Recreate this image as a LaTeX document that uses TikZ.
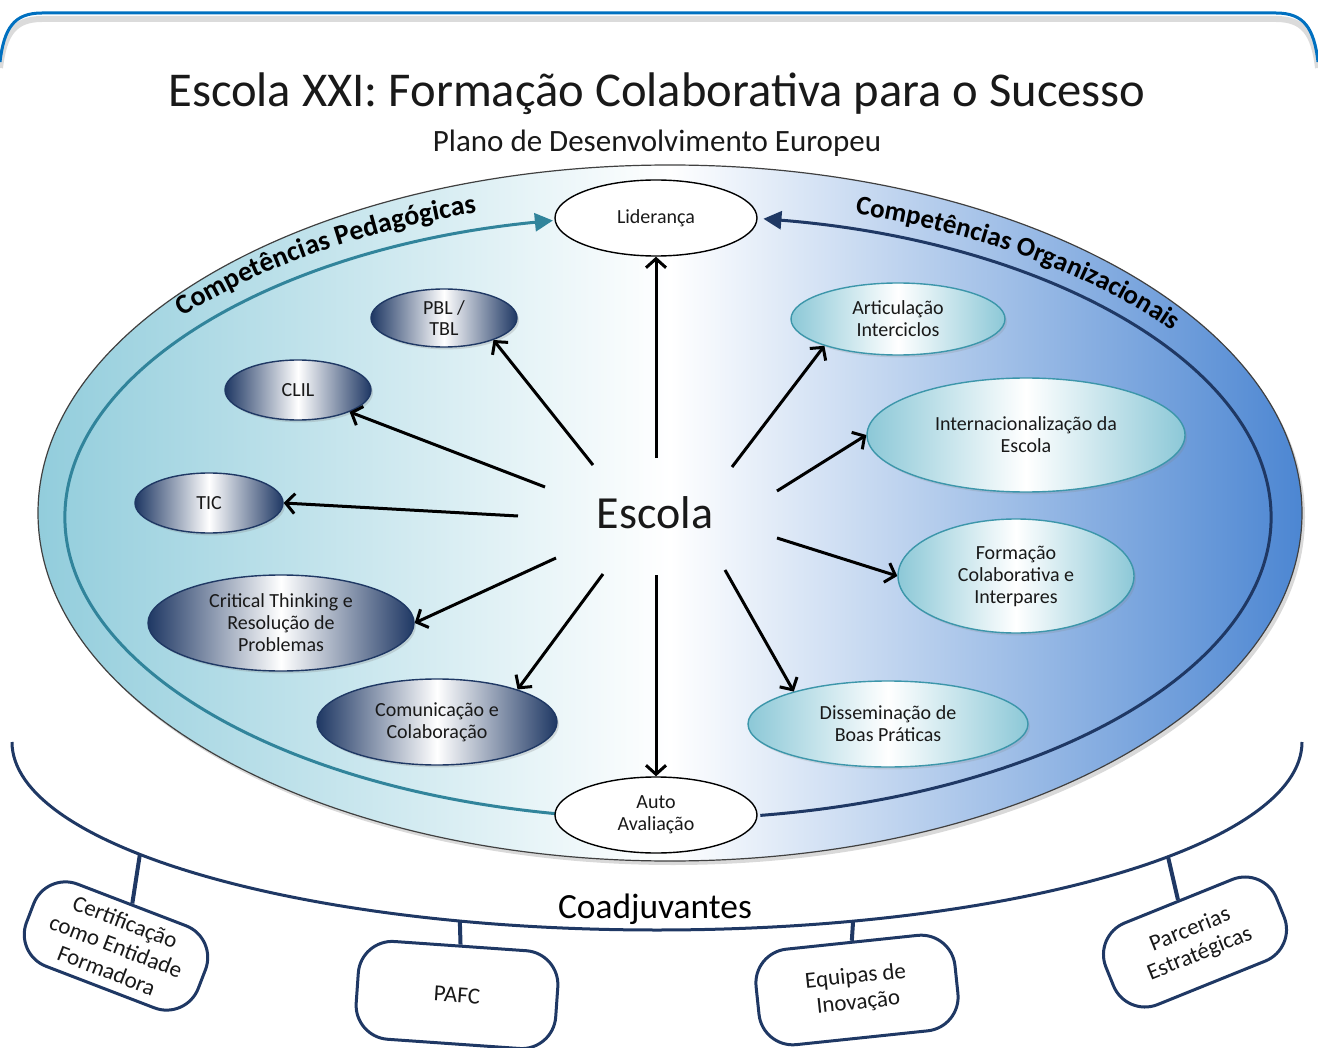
\documentclass[tikz,border=0pt]{standalone}
\usepackage{fontspec}
\setmainfont{Carlito}
\usetikzlibrary{arrows.meta,shapes.geometric,shadows,decorations.text}
\definecolor{navy}{RGB}{31,56,100}
\definecolor{tealline}{RGB}{49,132,155}
\definecolor{bandleft}{RGB}{146,205,220}
\definecolor{bandright}{RGB}{76,134,210}
\definecolor{frameblue}{RGB}{0,112,192}
\definecolor{tealfill}{RGB}{140,200,215}
\definecolor{tealborder}{RGB}{60,150,170}
\definecolor{navyfill}{RGB}{31,56,100}
\begin{document}
\begin{tikzpicture}[x=0.5pt,y=-0.5pt,
  every node/.style={inner sep=0pt, align=center, text=black!90},
  hub/.style={ellipse, draw=black, line width=0.7pt, fill=white, minimum width=101pt, minimum height=38pt, font=\fontsize{10}{11}\selectfont},
  ped/.style={ellipse, draw=navy, line width=0.7pt, left color=navyfill, right color=navyfill, middle color=white, font=\fontsize{10}{11}\selectfont, drop shadow={opacity=0.25,shadow xshift=1pt,shadow yshift=-1.2pt}},
  org/.style={ellipse, draw=tealborder, line width=0.7pt, left color=tealfill, right color=tealfill, middle color=white, font=\fontsize{10}{11}\selectfont, drop shadow={opacity=0.2,shadow xshift=1pt,shadow yshift=-1.2pt}},
  arr/.style={line width=1.5pt, -{Straight Barb[length=4.5pt,width=10pt]}},
  cbox/.style={rectangle, rounded corners=17pt, draw=navy, line width=1.5pt, fill=white, font=\fontsize{11.5}{13}\selectfont},
  conn/.style={draw=navy, line width=2pt},
]
\useasboundingbox (0,0) rectangle (1318,1048);

% frame
\draw[black!20, line width=3pt, opacity=0.7] (0,68) .. controls (4,34) and (14,19) .. (42,19) -- (1276,19) .. controls (1304,19) and (1314,34) .. (1318,68);
\draw[frameblue, line width=1.5pt] (0,62) .. controls (4,28) and (14,13) .. (42,13) -- (1276,13) .. controls (1304,13) and (1314,28) .. (1318,62);

% titles
\node[font=\fontsize{24.3}{29}\selectfont] (title) at (657,94) {Escola XXI: Formação Colaborativa para o Sucesso};
\node[font=\fontsize{15.5}{18}\selectfont] (sub) at (657,143) {Plano de Desenvolvimento Europeu};

% big ellipse
\path[draw=black!75, line width=0.6pt, left color=bandleft, right color=bandright, middle color=white,
  drop shadow={opacity=0.3,shadow xshift=1.5pt,shadow yshift=-2pt}] (670,513) ellipse [x radius=632, y radius=348];

% inner arcs
\draw[tealline, line width=1.5pt, -{Triangle[length=9pt,width=9pt]}] (556.0,813.7) arc[start angle=100.7, end angle=259, x radius=603, y radius=302];
\draw[navy, line width=1.5pt, -{Triangle[length=9pt,width=9pt]}] (760.3,815.4) arc[start angle=81.2, end angle=-80.9, x radius=603, y radius=302];

% band labels
\path[decorate, decoration={text along path, text align=left,
  text={|\fontsize{14}{14}\selectfont\bfseries|Competências Pedagógicas}}]
  (183.0,316.6) arc[start angle=218.76, end angle=268, x radius=622, y radius=320];
\path[decorate, decoration={text along path, text align=left,
  text={|\fontsize{13.5}{14}\selectfont\bfseries|Competências Organizacionais}}]
  (855.0,213.7) arc[start angle=287.5, end angle=352, x radius=622, y radius=318];

% hub nodes
\node[hub] (lid) at (656,218) {Liderança};
\node[hub] (auto) at (656,815) {Auto\\Avaliação};
\node[font=\fontsize{23}{26}\selectfont] (esc) at (655,513) {Escola};

% pedagogical
\node[ped, minimum width=73pt, minimum height=29pt, font=\fontsize{10}{10.5}\selectfont] (pbl) at (444,318) {PBL /\\TBL};
\node[ped, minimum width=73pt, minimum height=30pt] (clil) at (298,390) {CLIL};
\node[ped, minimum width=74pt, minimum height=30pt] (tic) at (209,503) {TIC};
\node[ped, minimum width=133pt, minimum height=48pt] (crit) at (281,623) {Critical Thinking e\\Resolução de\\Problemas};
\node[ped, minimum width=120pt, minimum height=43pt] (comu) at (437,722) {Comunicação e\\Colaboração};

% organizational
\node[org, minimum width=107pt, minimum height=36pt] (arti) at (898,319) {Articulação\\Interciclos};
\node[org, minimum width=159pt, minimum height=57pt] (inter) at (1026,435) {Internacionalização da\\Escola};
\node[org, minimum width=118pt, minimum height=57pt] (form) at (1016,576) {Formação\\Colaborativa e\\Interpares};
\node[org, minimum width=140pt, minimum height=43pt] (diss) at (888,724) {Disseminação de\\Boas Práticas};

% arrow starts
\coordinate (s-lid) at (656,458);
\coordinate (s-auto) at (656,575);
\coordinate (s-pbl) at (593,465);
\coordinate (s-clil) at (545,487);
\coordinate (s-tic) at (518,516);
\coordinate (s-crit) at (556,558);
\coordinate (s-comu) at (603,574);
\coordinate (s-arti) at (732,467);
\coordinate (s-inter) at (777,491);
\coordinate (s-form) at (777,538);
\coordinate (s-diss) at (725,570);

\draw[arr] (s-lid) -- (lid.south);
\draw[arr] (s-auto) -- (auto.north);
\draw[arr] (s-pbl) -- (pbl.-24);
\draw[arr] (s-clil) -- (clil.-23);
\draw[arr] (s-tic) -- (tic.east);
\draw[arr] (s-crit) -- (crit.east);
\draw[arr] (s-comu) -- (comu.22);
\draw[arr] (s-arti) -- (arti.200);
\draw[arr] (s-inter) -- (inter.west);
\draw[arr] (s-form) -- (form.west);
\draw[arr] (s-diss) -- (diss.161);

% Coadjuvantes
\draw[navy, line width=1.5pt] (1302,742) arc[start angle=0, end angle=180, x radius=645, y radius=188];
\node[font=\fontsize{17.7}{20}\selectfont, text=black] (coad) at (655,909) {Coadjuvantes};

\path (657,742) ++(143.3:645 and 188) coordinate (k1);
\path (657,742) ++(107.8:645 and 188) coordinate (k2);
\path (657,742) ++(72.3:645 and 188) coordinate (k3);
\path (657,742) ++(37.6:645 and 188) coordinate (k4);

\node[cbox, rotate=-21, minimum width=92pt, minimum height=44pt] (cert) at (116,946) {Certificação\\como Entidade\\Formadora};
\node[cbox, rotate=-4, minimum width=100pt, minimum height=49pt] (pafc) at (457,995) {PAFC};
\node[cbox, rotate=6, minimum width=100pt, minimum height=48pt] (equi) at (857,990) {Equipas de\\Inovação};
\node[cbox, rotate=22, minimum width=92pt, minimum height=44pt] (parc) at (1195,942) {Parcerias\\Estratégicas};

\draw[conn] (k1) -- (cert.north);
\draw[conn] (k2) -- (pafc.north);
\draw[conn] (k3) -- (equi.north);
\draw[conn] (k4) -- (parc.north);
\end{tikzpicture}
\end{document}
